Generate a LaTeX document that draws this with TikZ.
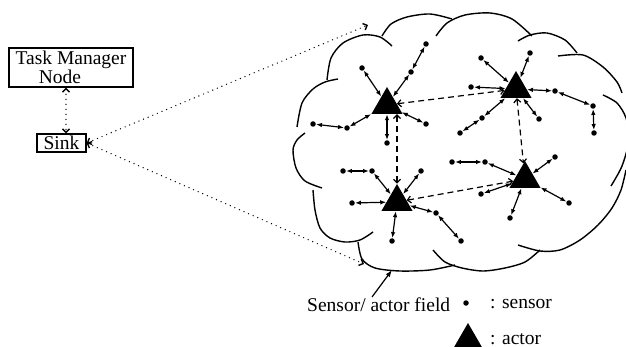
\documentclass[tikz,border=0pt]{standalone}
\usepackage{fontspec}
\setmainfont{Liberation Serif}
\usetikzlibrary{arrows.meta,shapes.geometric}
\tikzset{
  sensor/.style={circle, fill, inner sep=0pt, minimum size=5.5pt},
  actor/.style={regular polygon, regular polygon sides=3, fill, inner sep=0pt, minimum size=36pt},
  link/.style={line width=1.2pt, <->, >={Latex[length=6pt,width=4.5pt]}},
  dlink/.style={line width=1.2pt, dash pattern=on 6pt off 4pt, <->, >={Straight Barb[length=3.5pt,width=7pt]}},
  dotlink/.style={line width=1.4pt, line cap=round, dash pattern=on 0pt off 5pt, <->, >={Straight Barb[length=3.5pt,width=7pt,line cap=butt]}},
  boxnode/.style={draw, line width=1.3pt, inner sep=0pt, font=\fontsize{19.5}{13}\selectfont, align=center},
  lbl/.style={font=\fontsize{19.5}{22}\selectfont, inner sep=0pt},
  cloudline/.style={line width=1.4pt}
}
\begin{document}
\begin{tikzpicture}[x=1pt,y=-1pt]
\useasboundingbox (0,0) rectangle (626,347);

% left boxes
\node[boxnode, minimum width=124pt, minimum height=39pt] (TM) at (71,67.5) {Task Manager\\Node\hspace*{22pt}};
\node[boxnode, minimum width=49pt, minimum height=18pt] (Sink) at (61.5,143) {Sink};
\draw[dotlink] ([xshift=-5pt]TM.south) -- ([xshift=4.5pt]Sink.north);

\coordinate (cu) at (368,25);
\coordinate (cl) at (364,264);
\draw[dotlink] (Sink.east) -- (cu);
\draw[dotlink] (Sink.east) -- (cl);

% cloud
\draw[cloudline] plot[smooth] coordinates {(297,127) (302,103) (313,89) (325,82) (338,79)};
\draw[cloudline] plot[smooth] coordinates {(327,80) (331,58) (343,43) (363,35) (380,37) (392,46)};
\draw[cloudline] plot[smooth] coordinates {(382,36) (391,24) (407,17) (430,14) (452,19)};
\draw[cloudline] plot[smooth] coordinates {(436,36) (447,23) (465,15) (490,13) (512,19) (532,36)};
\draw[cloudline] plot[smooth] coordinates {(518,41) (530,35) (547,33) (565,40) (577,53)};
\draw[cloudline] plot[smooth] coordinates {(558,56) (583,55) (603,67) (617,82) (622,93)};
\draw[cloudline] plot[smooth] coordinates {(603,95) (617,103) (626,118) (629,140) (622,166) (611,186)};
\draw[cloudline] plot[smooth] coordinates {(626,170) (621,190) (612,208) (598,225) (580,240) (560,250) (540,251) (518,245)};
\draw[cloudline] plot[smooth] coordinates {(540,250) (525,262) (505,268) (483,271) (462,268) (445,262) (433,250)};
\draw[cloudline] plot[smooth] coordinates {(455,265) (430,270) (400,271) (375,268) (362,259) (358,242)};
\draw[cloudline] plot[smooth] coordinates {(373,232) (360,240) (345,242) (330,238) (320,228) (315,210) (313,190)};
\draw[cloudline] plot[smooth] coordinates {(322,188) (305,181) (296,168) (293,150) (297,140) (305,133)};

% actors
\node[actor] (A1) at (387,105) {};
\node[actor] (A2) at (516,89) {};
\node[actor] (A3) at (397,202) {};
\node[actor] (A4) at (525,179) {};

% sensors
\node[sensor] (a1) at (362,68) {};
\node[sensor] (a2) at (426,44) {};
\node[sensor] (a2m) at (411,72) {};
\node[sensor] (a3) at (313,124) {};
\node[sensor] (a3m) at (347,128) {};
\node[sensor] (a4) at (387,143) {};
\node[sensor] (a5) at (426,124) {};

\node[sensor] (b1) at (481,58) {};
\node[sensor] (b2) at (530,53) {};
\node[sensor] (b3) at (471,87) {};
\node[sensor] (b4) at (460,133) {};
\node[sensor] (b4m) at (482,118) {};
\node[sensor] (b5) at (539,119) {};
\node[sensor] (b6) at (555,91) {};
\node[sensor] (b7) at (593,106) {};
\node[sensor] (b8) at (594,133) {};

\node[sensor] (c1) at (343,171) {};
\node[sensor] (c1m) at (372,171) {};
\node[sensor] (c2) at (421,171) {};
\node[sensor] (c3) at (352,203) {};
\node[sensor] (c4) at (392,241) {};
\node[sensor] (c5) at (436,213) {};
\node[sensor] (c6) at (461,241) {};

\node[sensor] (d1) at (452,162) {};
\node[sensor] (d1m) at (485,162) {};
\node[sensor] (d2) at (555,157) {};
\node[sensor] (d3) at (481,194) {};
\node[sensor] (d4) at (510,218) {};
\node[sensor] (d5) at (569,203) {};

% sensor links
\draw[link] (a1) -- (A1);
\draw[link] (a2) -- (a2m);
\draw[link] (a2m) -- (A1);
\draw[link] (a3) -- (a3m);
\draw[link] (a3m) -- (A1);
\draw[link] (a4) -- (A1);
\draw[link] (a5) -- (A1);

\draw[link] (b1) -- (A2);
\draw[link] (b2) -- (A2);
\draw[link] (b3) -- (A2);
\draw[link] (b4) -- (b4m);
\draw[link] (b4m) -- (A2);
\draw[link] (b5) -- (A2);
\draw[link] (A2) -- (b6);
\draw[link] (b6) -- (b7);
\draw[link] (b7) -- (b8);

\draw[link] (c1) -- (c1m);
\draw[link] (c1m) -- (A3);
\draw[link] (c2) -- (A3);
\draw[link] (c3) -- (A3);
\draw[link] (c4) -- (A3);
\draw[link] (A3) -- (c5);
\draw[link] (c5) -- (c6);

\draw[link] (d1) -- (d1m);
\draw[link] (d1m) -- (A4);
\draw[link] (d2) -- (A4);
\draw[link] (d3) -- (A4);
\draw[link] (d4) -- (A4);
\draw[link] (d5) -- (A4);

% actor links
\draw[dlink] (A1) -- (A2);
\draw[dlink] (A1.side 2 -| A3.corner 1) -- (A3.corner 1);
\draw[dlink] (A2) -- (A4);
\draw[dlink] (A3) -- (A4);

% labels
\node[lbl, anchor=base west] (field) at (307,311) {Sensor/ actor field};
\coordinate (fa) at (372,297);
\coordinate (cb) at (392,270);
\draw[line width=1.2pt, ->, >={Latex[length=7pt,width=5pt]}] (fa) -- (cb);

\node[sensor] (ls) at (466,303) {};
\node[lbl, anchor=base west] (lst) at (490,308) {: sensor};
\node[actor] (la) at (468,341) {};
\node[lbl, anchor=base west] (lat) at (490,344) {: actor};
\end{tikzpicture}
\end{document}
